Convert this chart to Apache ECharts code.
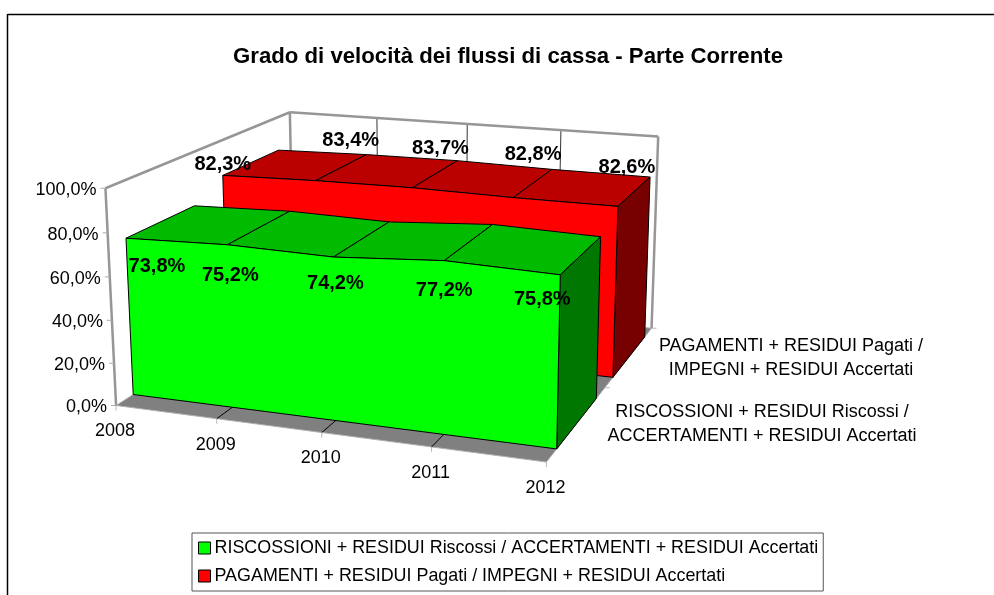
<!DOCTYPE html>
<html><head><meta charset="utf-8">
<style>html,body{margin:0;padding:0;background:#fff}#c{width:994px;height:595px}</style>
<script src="https://cdn.jsdelivr.net/npm/echarts@6/dist/echarts.min.js"></script>
</head><body><div id="c"></div>
<script>
const categories = ['2008','2009','2010','2011','2012'];
const riscossioni = [73.8,75.2,74.2,77.2,75.8];
const pagamenti = [82.3,83.4,83.7,82.8,82.6];
const yTicks = [0,20,40,60,80,100];
const nameGreen = 'RISCOSSIONI + RESIDUI Riscossi / ACCERTAMENTI + RESIDUI Accertati';
const nameRed = 'PAGAMENTI + RESIDUI Pagati / IMPEGNI + RESIDUI Accertati';

// Layout: 3D view calibration (world u,depth,height in 0..1 -> screen)
const FONT = '"Liberation Sans", Arial, sans-serif';
const GRID = {left:116, top:188, width:430, height:218};
const view = [
 [0,0,0,116,406],[0,0,1,105.5,188],[0,1,1,289.5,112],[1,1,1,658.3,136],
 [1,0,0,546,462],[1,1,0,651.6,328],[.25,0,0,216.7,418],[.5,0,0,322,432],
 [.75,0,0,431.7,448],[.25,1,1,377.3,118],[.5,1,1,467.3,125],[.75,1,1,560.7,130]
];
const greenDepth = [0.08,0.42], redDepth = [0.58,0.92];
const greenLabelShift = [[31,28],[3,31],[2,26],[0,30],[-18,25]];
const redLabelShift = [[0,-11],[35,-40],[28,-39],[20,-43],[9,-39]];

function solveView(){
  const n=11, A=Array.from({length:n},()=>new Array(n+1).fill(0));
  const add=(r,b)=>{for(let i=0;i<n;i++){for(let j=0;j<n;j++)A[i][j]+=r[i]*r[j];A[i][n]+=r[i]*b;}};
  view.forEach(([u,v,h,x,y])=>{
    x/=1000;y/=1000;
    add([u,v,h,1,0,0,0,0,-x*u,-x*v,-x*h],x);
    add([0,0,0,0,u,v,h,1,-y*u,-y*v,-y*h],y);
  });
  for(let c=0;c<n;c++){
    let m=c;for(let r=c+1;r<n;r++)if(Math.abs(A[r][c])>Math.abs(A[m][c]))m=r;
    [A[c],A[m]]=[A[m],A[c]];
    for(let r=0;r<n;r++){if(r===c)continue;const f=A[r][c]/A[c][c];for(let k=c;k<=n;k++)A[r][k]-=f*A[c][k];}
  }
  return A.map((row,i)=>row[n]/row[i]);
}
const P=solveView();
function proj(u,v,h){
  const w=P[8]*u+P[9]*v+P[10]*h+1;
  return [1000*(P[0]*u+P[1]*v+P[2]*h+P[3])/w,1000*(P[4]*u+P[5]*v+P[6]*h+P[7])/w];
}
function world(api,i,val){
  const c=api.coord([i,val]);
  return [(c[0]-GRID.left)/GRID.width,(GRID.top+GRID.height-c[1])/GRID.height];
}
const poly=(pts,fill,stroke,lw)=>({type:'polygon',shape:{points:pts},style:{fill:fill,stroke:stroke||null,lineWidth:lw||1}});
const seg=(a,b,stroke,lw)=>({type:'line',shape:{x1:a[0],y1:a[1],x2:b[0],y2:b[1]},style:{stroke:stroke,lineWidth:lw||1,fill:null}});
const txt=(s,x,y,align,size,weight)=>({type:'text',style:{text:s,x:x,y:y,align:align,verticalAlign:'middle',fontSize:size,fontWeight:weight||'normal',fontFamily:FONT,fill:'#000'}});

function renderBox(params,api){
  if(params.dataIndex!==0) return {type:'group',children:[]};
  const ch=[], W='#969696';
  ch.push(poly([proj(0,0,0),proj(0,0,1),proj(0,1,1),proj(0,1,0)],'#fff'));
  ch.push(poly([proj(0,1,0),proj(0,1,1),proj(1,1,1),proj(1,1,0)],'#fff'));
  categories.forEach((c,i)=>{ if(i>0&&i<categories.length-1){
    const [u]=world(api,i,0);
    ch.push(seg(proj(u,1,1),proj(u,1,0),'#333',1));
  }});
  ch.push(poly([proj(0,0,0),proj(1,0,0),proj(1,1,0),proj(0,1,0)],'#808080','#b0b0b0',1));
  categories.forEach((c,i)=>{
    const [u]=world(api,i,0);
    if(i>0&&i<categories.length-1) ch.push(seg(proj(u,0,0),proj(u,1,0),'#000',1));
    const p=proj(u,0,0);
    ch.push(seg(p,[p[0],p[1]+5],'#bbb',1));
    ch.push(txt(c,p[0]-1,p[1]+26,'center',18));
  });
  // walls' outline
  [[proj(0,0,0),proj(0,0,1)],[proj(0,0,1),proj(0,1,1)],[proj(0,1,1),proj(1,1,1)],
   [proj(1,1,1),proj(1,1,0)],[proj(0,1,1),proj(0,1,0)]].forEach(s=>ch.push(seg(s[0],s[1],W,2.5)));
  yTicks.forEach(t=>{
    const [,h]=world(api,0,t), p=proj(0,0,h);
    ch.push(seg([p[0]-5,p[1]],p,'#aaa',1));
    ch.push(txt(t.toFixed(1).replace('.',',')+'%',p[0]-9,p[1]+2,'right',18));
  });
  [0.5,1].forEach(v=>{const p=proj(1,v,0);ch.push(seg(p,[p[0]+5,p[1]],'#bbb',1));});
  // depth axis labels
  ch.push(txt('PAGAMENTI + RESIDUI Pagati /',791,346,'center',18));
  ch.push(txt('IMPEGNI + RESIDUI Accertati',791,370,'center',18));
  ch.push(txt('RISCOSSIONI + RESIDUI Riscossi /',762,412,'center',18));
  ch.push(txt('ACCERTAMENTI + RESIDUI Accertati',762,436,'center',18));
  return {type:'group',children:ch};
}
function renderArea(depth,front,top,side){
  return function(params,api){
    if(params.dataIndex!==0) return {type:'group',children:[]};
    const [v0,v1]=depth, n=categories.length, pts=[];
    for(let i=0;i<n;i++) pts.push(world(api,api.value(0,i),api.value(1,i)));
    const ch=[];
    for(let i=0;i<n-1;i++){
      ch.push(poly([proj(pts[i][0],v0,pts[i][1]),proj(pts[i][0],v1,pts[i][1]),proj(pts[i+1][0],v1,pts[i+1][1]),proj(pts[i+1][0],v0,pts[i+1][1])],top,'#000',1));
    }
    const last=pts[n-1], first=pts[0];
    ch.push(poly([proj(last[0],v0,0),proj(last[0],v0,last[1]),proj(last[0],v1,last[1]),proj(last[0],v1,0)],side,'#000',1));
    const face=[proj(first[0],v0,0)];
    pts.forEach(p=>face.push(proj(p[0],v0,p[1])));
    face.push(proj(last[0],v0,0));
    ch.push(poly(face,front,'#000',1));
    return {type:'group',children:ch};
  };
}
function renderLabels(values,depth,shift){
  return function(params,api){
    const p=world(api,api.value(0),api.value(1)), q=proj(p[0],depth[0],p[1]), i=params.dataIndex;
    return txt(String(values[i].toFixed(1)).replace('.',',')+'%',q[0]+shift[i][0],q[1]+shift[i][1],'center',20,'bold');
  };
}
const pairs=a=>a.map((v,i)=>[i,v]);
const chart=echarts.init(document.getElementById('c'),null,{renderer:'canvas'});
chart.setOption({
  animation:false,
  backgroundColor:'#fff',
  title:{text:'Grado di velocità dei flussi di cassa - Parte Corrente',left:503,top:41,textAlign:'center',
    textStyle:{fontFamily:FONT,fontSize:22.2,fontWeight:'bold',color:'#000'}},
  grid:{left:GRID.left,top:GRID.top,width:GRID.width,height:GRID.height},
  xAxis:{type:'category',data:categories,boundaryGap:false,show:false},
  yAxis:{type:'value',min:0,max:100,interval:20,show:false},
  legend:{data:[nameGreen,nameRed],orient:'vertical',left:192,top:533,padding:[6,5,6,6],itemGap:10,
    itemWidth:12,itemHeight:12,icon:'rect',itemStyle:{borderColor:'#000',borderWidth:1},
    borderColor:'#555',borderWidth:1,backgroundColor:'#fff',selectedMode:false,
    textStyle:{fontFamily:FONT,fontSize:17.9,color:'#000',padding:[0,0,0,-1]}},
  graphic:[
    {type:'line',shape:{x1:7.5,y1:14.5,x2:994,y2:14.5},style:{stroke:'#000',lineWidth:1.5},z:0},
    {type:'line',shape:{x1:7.5,y1:14,x2:7.5,y2:595},style:{stroke:'#000',lineWidth:1.5},z:0}
  ],
  series:[
    {type:'custom',name:'box',coordinateSystem:'cartesian2d',z:1,silent:true,data:pairs(riscossioni),renderItem:renderBox,encode:{x:0,y:1}},
    {type:'custom',name:nameRed,coordinateSystem:'cartesian2d',z:2,silent:true,itemStyle:{color:'#ff0000'},data:pairs(pagamenti),
      renderItem:renderArea(redDepth,'#ff0000','#bb0000','#770000'),encode:{x:0,y:1}},
    {type:'custom',name:nameGreen,coordinateSystem:'cartesian2d',z:3,silent:true,itemStyle:{color:'#00ff00'},data:pairs(riscossioni),
      renderItem:renderArea(greenDepth,'#00ff00','#00bb00','#007700'),encode:{x:0,y:1}},
    {type:'custom',name:'labelsRed',coordinateSystem:'cartesian2d',z:4,silent:true,data:pairs(pagamenti),renderItem:renderLabels(pagamenti,redDepth,redLabelShift),encode:{x:0,y:1}},
    {type:'custom',name:'labelsGreen',coordinateSystem:'cartesian2d',z:5,silent:true,data:pairs(riscossioni),renderItem:renderLabels(riscossioni,greenDepth,greenLabelShift),encode:{x:0,y:1}}
  ]
});
</script></body></html>
